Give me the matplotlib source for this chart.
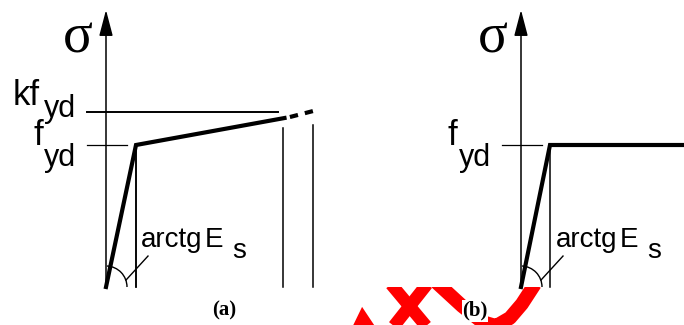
import matplotlib
matplotlib.use("Agg")
import matplotlib.pyplot as plt
from matplotlib.patches import Arc, Rectangle, Polygon

# stress / strain in units of eps_yd and f_yd
eps_yd = 1.0
f_yd = 1.0
kf_yd = 1.232

# (a) bilinear with hardening
a_eps = [0.0, eps_yd, 5.95]
a_sig = [0.0, f_yd, 1.19]
a_dash_eps = [6.13, 6.9]
a_dash_sig = [1.197, 1.239]
a_verts_eps = [eps_yd, 5.9, 6.9]
a_verts_top = [0.96, 1.12, 1.14]
a_kf_line = [-0.63, 5.73]
a_fy_tick = [-0.63, 0.7]

# (b) elastic - perfectly plastic
b_eps = [0.0, eps_yd, 7.0]
b_sig = [0.0, f_yd, f_yd]
b_fy_tick = [-0.655, 0.724]

# red overlay in the lower right (in panel-b units)
red_tri_x = [-5.86, -5.48, -4.96]
red_tri_y = [-0.30, -0.14, -0.30]
red_x1_x = [-4.48, -3.17]
red_x1_y = [0.02, -0.30]
red_x2_x = [-3.24, -4.48]
red_x2_y = [0.02, -0.30]
red_band_x = [-2.93, -2.03, -1.34, -0.86, -0.38, 0.03, 0.48]
red_band_y = [0.035, -0.134, -0.246, -0.275, -0.218, -0.120, 0.021]

sans = ["Liberation Sans", "DejaVu Sans"]
serif = ["Liberation Serif", "DejaVu Serif"]

fig = plt.figure(figsize=(6.84, 3.25), dpi=100)
ax_a = fig.add_axes([0, 0, 0.5, 1])
ax_b = fig.add_axes([0.5, 0, 0.5, 1])

ax_a.set_xlim(-106 / 30, 236 / 30)
ax_b.set_xlim(-179 / 29, 163 / 29)
for ax in (ax_a, ax_b):
    ax.set_ylim(-38 / 142, 287 / 142)
    ax.axis("off")


def sigma_axis(ax, fy_tick, ux):
    ax.annotate("", xy=(0, 1.951), xytext=(0, 0),
                arrowprops=dict(arrowstyle="-|>,head_length=1.6,head_width=0.42",
                                mutation_scale=10, lw=1.1, color="k",
                                shrinkA=0, shrinkB=0))
    ax.text(-28 / ux, 1.65, "σ", family=serif, fontsize=40,
            ha="center", va="baseline")
    ax.plot(fy_tick, [f_yd, f_yd], color="k", lw=0.9)
    ax.text(-73 / ux, 1.0, "f", family=sans, fontsize=25, va="baseline")
    ax.text(-62 / ux, 0.852, "yd", family=sans, fontsize=22, va="baseline")
    ax.plot([eps_yd, eps_yd], [0, 0.96], color="k", lw=1.1)
    # angle E_s
    ax.add_patch(Arc((0, 0), 2 * 21 / ux, 2 * 21 / 142, theta1=0, theta2=78,
                     lw=1.0, color="k"))
    ax.plot([20 / ux, 42 / ux], [0.049, 0.218], color="k", lw=1.0)
    ax.text(35 / ux, 0.282, "arctg", family=sans, fontsize=20, va="baseline")
    ax.text(99 / ux, 0.282, "E", family=sans, fontsize=20, va="baseline")
    ax.text(126 / ux, 0.204, "s", family=sans, fontsize=20, va="baseline")


# panel (a)
sigma_axis(ax_a, a_fy_tick, 30)
ax_a.plot(a_kf_line, [kf_yd, kf_yd], color="k", lw=1.4)
ax_a.text(-93 / 30, 1.282, "kf", family=sans, fontsize=25, va="baseline")
ax_a.text(-62 / 30, 1.197, "yd", family=sans, fontsize=22, va="baseline")
for e, top in zip(a_verts_eps, a_verts_top):
    ax_a.plot([e, e], [0, top], color="k", lw=1.1)
ax_a.plot(a_eps, a_sig, color="k", lw=3.0, solid_joinstyle="miter")
ax_a.plot(a_dash_eps, a_dash_sig, color="k", lw=3.0, dashes=(2, 1.7))
ax_a.text(118 / 30, -0.204, "(a)", family=serif, fontsize=15,
          fontweight="bold", ha="center", va="baseline")

# panel (b)
sigma_axis(ax_b, b_fy_tick, 29)
ax_b.plot(b_eps, b_sig, color="k", lw=3.0, solid_joinstyle="miter")

clip = Rectangle((-8, -0.6), 16, 0.6, transform=ax_b.transData)
tri = Polygon(list(zip(red_tri_x, red_tri_y)), closed=True, color="red", lw=0)
ax_b.add_patch(tri)
tri.set_clip_path(clip)
for xs, ys, w in [(red_x1_x, red_x1_y, 9), (red_x2_x, red_x2_y, 9),
                  (red_band_x, red_band_y, 10)]:
    ln, = ax_b.plot(xs, ys, color="red", lw=w, solid_capstyle="butt",
                    solid_joinstyle="round")
    ln.set_clip_path(clip)
ax_b.text(-46 / 29, -0.204, "(b)", family=serif, fontsize=15,
          fontweight="bold", ha="center", va="baseline", zorder=5,
          bbox=dict(facecolor="white", edgecolor="none", pad=0.5))

fig.savefig("out.png", dpi=100)
